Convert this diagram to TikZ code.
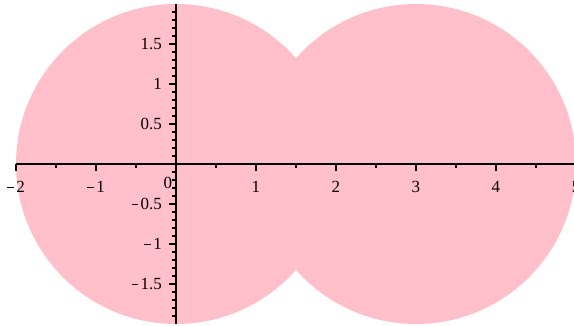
\documentclass[tikz,border=0pt]{standalone}
\usepackage{fontspec}
\setmainfont{Liberation Serif}
\definecolor{plotpink}{RGB}{255,192,203}
\newcommand\mn{\rule[0.26em]{0.37em}{0.06em}\kern0.16em}
\begin{document}
\begin{tikzpicture}[x=80pt,y=80pt,
  axisline/.style={line width=1.5pt,black},
  tickline/.style={line width=1.2pt,black},
  xlab/.style={anchor=base,inner sep=0pt,font=\fontsize{17}{20}\selectfont},
  ylab/.style={anchor=east,inner sep=0pt,font=\fontsize{17}{20}\selectfont}]
\useasboundingbox (-2.2,-2.0125) rectangle (4.975,2.05);
\clip (-2.2,-2.0125) rectangle (4.975,2.05);
% disks
\fill[plotpink] (0,0) circle[radius=2];
\fill[plotpink] (3,0) circle[radius=2];
% axes
\coordinate (xa) at (-2,0);
\coordinate (xb) at (5,0);
\coordinate (ya) at (0,-2);
\coordinate (yb) at (0,2);
\draw[axisline] (xa) -- (xb);
\draw[axisline] (ya) -- (yb);
% x ticks
\foreach \x in {-2,-1,1,2,3,4,5} \draw[tickline] (\x,0) -- (\x,-0.0875);
\foreach \x in {-1.5,-0.5,0.5,1.5,2.5,3.5,4.5} \draw[tickline] (\x,0) -- (\x,-0.05);
% y ticks
\foreach \y in {-1.5,-1,-0.5,0.5,1,1.5} \draw[tickline] (0,\y) -- (-0.0875,\y);
\foreach \y in {-1.9,-1.8,-1.7,-1.6,-1.4,-1.3,-1.2,-1.1,-0.9,-0.8,-0.7,-0.6,-0.4,-0.3,-0.2,-0.1,0.1,0.2,0.3,0.4,0.6,0.7,0.8,0.9,1.1,1.2,1.3,1.4,1.6,1.7,1.8,1.9}
  \draw[tickline] (0,\y) -- (-0.05,\y);
% x labels
\node[xlab] (xm2) at (-2,-0.35) {\mn2};
\node[xlab] (xm1) at (-1,-0.35) {\mn1};
\node[xlab] (x0) at (-0.1,-0.3) {0};
\node[xlab] (x1) at (1,-0.35) {1};
\node[xlab] (x2) at (2,-0.35) {2};
\node[xlab] (x3) at (3,-0.35) {3};
\node[xlab] (x4) at (4,-0.35) {4};
\node[xlab] (x5) at (5,-0.35) {5};
% y labels
\node[ylab] (y15) at (-0.175,1.5) {1.5};
\node[ylab] (y1) at (-0.175,1) {1};
\node[ylab] (y05) at (-0.175,0.5) {0.5};
\node[ylab] (ym05) at (-0.175,-0.5) {\mn0.5};
\node[ylab] (ym1) at (-0.175,-1) {\mn1};
\node[ylab] (ym15) at (-0.175,-1.5) {\mn1.5};
\end{tikzpicture}
\end{document}
